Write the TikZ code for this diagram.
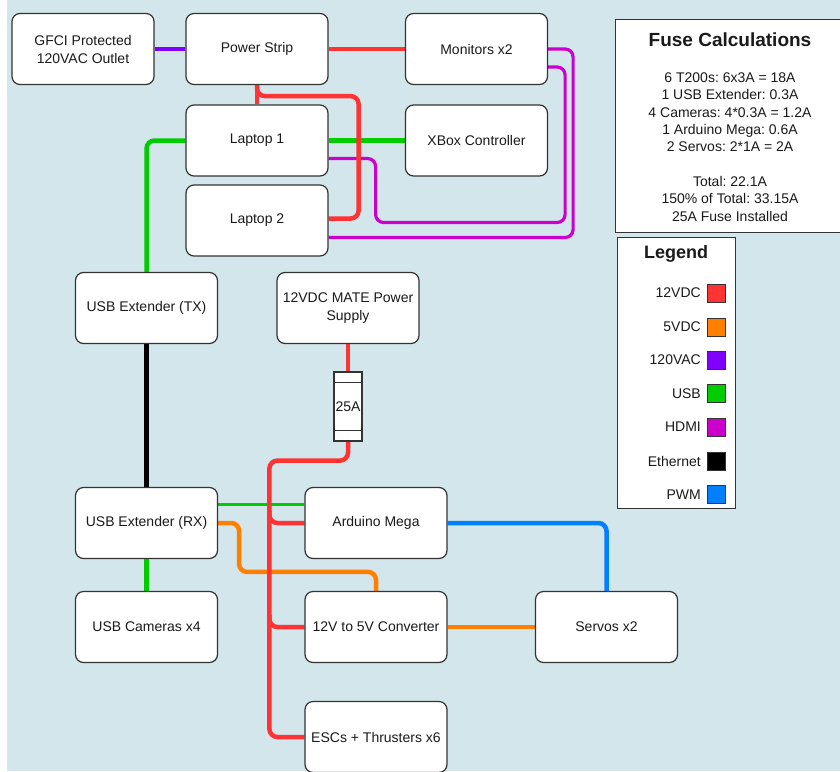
\documentclass[tikz,border=0pt]{standalone}
\usepackage{fontspec}
\setmainfont{Liberation Sans}
\usetikzlibrary{calc}
\pgfdeclarelayer{bg}
\pgfdeclarelayer{wires}
\pgfsetlayers{bg,wires,main}
\definecolor{bgblue}{HTML}{D3E6EC}
\definecolor{cred}{HTML}{FF3333}
\definecolor{corange}{HTML}{FF8000}
\definecolor{cpurple}{HTML}{7F00FF}
\definecolor{cgreen}{HTML}{00CC00}
\definecolor{cmagenta}{HTML}{CC00CC}
\definecolor{cblue}{HTML}{007FFF}
\definecolor{border}{HTML}{333333}
\definecolor{txt}{HTML}{1A1A1A}
\frenchspacing
\begin{document}
\frenchspacing
\begin{tikzpicture}[x=1pt,y=-1pt,
  box/.style={draw=border, fill=white, rounded corners=8pt, line width=1.2pt,
    minimum width=142pt, minimum height=71pt, align=center, inner sep=2pt,
    text=txt, font=\fontsize{14}{18}\selectfont},
  panel/.style={draw=border, fill=white, line width=1.2pt, inner sep=0pt, anchor=north west},
  wire/.style={line width=4.5pt, rounded corners=8pt},
  thinwire/.style={line width=3.2pt, rounded corners=8pt},
  txtstyle/.style={text=txt, font=\fontsize{14}{17.3}\selectfont, inner sep=0pt},
  swatch/.style={draw=border, line width=1pt, minimum size=18pt, inner sep=0pt}]
\useasboundingbox (0,0) rectangle (840,771);
\begin{pgfonlayer}{bg}
  \fill[bgblue] (0,0) rectangle (840,771);
  \fill[white] (0,0) rectangle (7,771);
\end{pgfonlayer}
\clip (0,0) rectangle (840,771);

% nodes
\node[box] (gfci) at (83,49) {GFCI Protected\\120VAC Outlet};
\node[box] (ps) at (257,49) {Power Strip};
\node[box] (mon) at (476.5,49) {Monitors x2};
\node[box] (lap1) at (257,140.5) {Laptop 1};
\node[box] (xbox) at (476.5,140.5) {XBox Controller};
\node[box] (lap2) at (257,220.5) {Laptop 2};
\node[box] (tx) at (146.5,308) {USB Extender (TX)};
\node[box] (mate) at (348,308) {12VDC MATE Power\\Supply};
\node[draw=border, fill=white, line width=1.2pt, minimum width=28pt, minimum height=69pt,
      inner sep=0pt, text=txt, font=\fontsize{14}{16}\selectfont] (fuse) at (348,406.5) {25A};
\draw[border, line width=1.2pt] ([yshift=-11pt]fuse.north west) -- ([yshift=-11pt]fuse.north east);
\draw[border, line width=1.2pt] ([yshift=11pt]fuse.south west) -- ([yshift=11pt]fuse.south east);
\node[box] (rx) at (146.5,523) {USB Extender (RX)};
\node[box] (ard) at (376,523) {Arduino Mega};
\node[box] (cam) at (146.5,627) {USB Cameras x4};
\node[box] (conv) at (376,627) {12V to 5V Converter};
\node[box] (servo) at (606.5,627) {Servos x2};
\node[box] (esc) at (376,737) {ESCs + Thrusters x6};

% fuse calculation panel
\node[panel, minimum width=240pt, minimum height=213pt] (calc) at (615,19) {};
\node[txtstyle, font=\bfseries\fontsize{19}{22}\selectfont] (calctitle) at (730,40) {Fuse Calculations};
\node[txtstyle, align=center] (calcbody) at (730,147) {6 T200s: 6x3A = 18A\\
1 USB Extender: 0.3A\\
4 Cameras: 4*0.3A = 1.2A\\
1 Arduino Mega: 0.6A\\
2 Servos: 2*1A = 2A\\[17.3pt]
Total: 22.1A\\
150\% of Total: 33.15A\\
25A Fuse Installed};

% legend
\node[panel, minimum width=118pt, minimum height=271pt] (legend) at (617,237) {};
\node[txtstyle, font=\bfseries\fontsize{18}{21}\selectfont] (legendtitle) at (676,254) {Legend};
\foreach \lab/\col/\yy [count=\i] in {12VDC/cred/293, 5VDC/corange/327, 120VAC/cpurple/360,
    USB/cgreen/393.5, HDMI/cmagenta/427, Ethernet/black/461, PWM/cblue/494.5} {
  \node[txtstyle, anchor=east] (lglab\i) at (701,\yy) {\lab};
  \node[swatch, fill=\col] (lgsw\i) at (716.5,\yy) {};
}

% wires
\begin{pgfonlayer}{wires}
  % 120VAC
  \draw[cpurple, line width=3.5pt] (gfci.east) -- (ps.west);
  % USB
  \draw[cgreen, wire] (lap1.east) -- (xbox.west);
  \draw[cgreen, wire] (lap1.west) -| (tx.north);
  \draw[cgreen, thinwire] ([yshift=18.5pt]rx.east) -- ([yshift=18.5pt]ard.west);
  \draw[cgreen, wire] (rx.south) -- (cam.north);
  % HDMI
  \draw[cmagenta, thinwire] ([yshift=-18pt]lap1.east) -- ++(47,0) -- ++(0,64)
      -| ([xshift=17pt,yshift=-18pt]mon.east) -- ([yshift=-18pt]mon.east);
  \draw[cmagenta, thinwire] ([yshift=-17pt]lap2.east) -| ([xshift=25pt]mon.east) -- (mon.east);
  % Ethernet
  \draw[black, wire] (tx.south) -- (rx.north);
  % 5VDC
  \draw[corange, wire] (rx.east) -- ++(21,0) |- ([yshift=19pt]conv.north) -- (conv.north);
  \draw[corange, wire] (conv.east) -- (servo.west);
  % PWM
  \draw[cblue, wire] (ard.east) -| (servo.north);
  % 12VDC
  \draw[cred, wire] (ps.east) -- (mon.west);
  \draw[cred, wire] (ps.south) -- (lap1.north);
  \draw[cred, wire] (ps.south) -- ++(0,11) -| ([xshift=30pt,yshift=2pt]lap2.east) -- ([yshift=2pt]lap2.east);
  \draw[cred, wire] (mate.south) -- (fuse.north);
  \draw[cred, wire] (fuse.south) -- ++(0,19) -| ([xshift=-35pt]esc.west) -- (esc.west);
  \draw[cred, wire] ([xshift=-35pt,yshift=12pt]ard.west) |- (ard.west);
  \draw[cred, wire] ([xshift=-35pt,yshift=12pt]conv.west) |- (conv.west);
\end{pgfonlayer}
\end{tikzpicture}
\end{document}
